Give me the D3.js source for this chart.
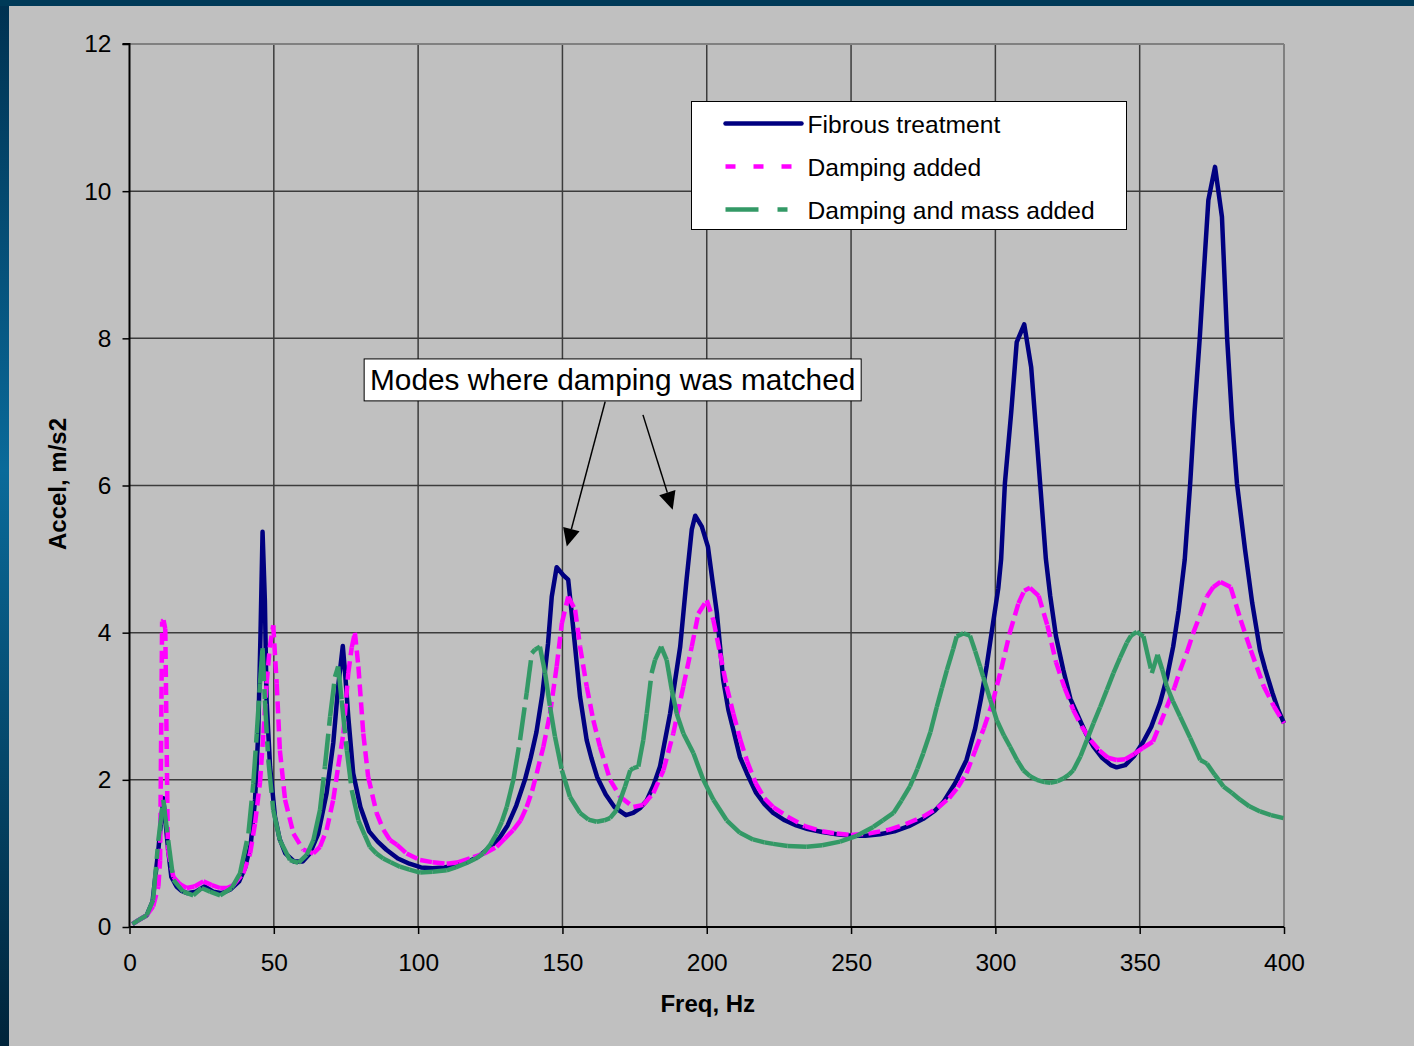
<!DOCTYPE html>
<html>
<head>
<meta charset="utf-8">
<script src="https://cdn.jsdelivr.net/npm/d3@7"></script>
<style>
  html, body { margin: 0; padding: 0; background: #c0c0c0; }
  svg { display: block; }
  text { font-family: "Liberation Sans", Arial, sans-serif; fill: #000; }
</style>
</head>
<body>
<svg id="chart" width="1414" height="1046"></svg>
<script>
// ---- Frequency response data (acceleration, m/s2 vs frequency, Hz) ----
const fibrousFreq = [1,3,6,8,10,11.7,13.4,14.5,16.3,18,20,23,26,29,32,35,38,40,42,43.5,44.6,45.4,46.1,46.9,47.5,48.7,50.4,52,54,57,60,62.5,65.4,68.3,70.6,72.3,73.9,74.7,75.8,77.5,80,83,86,89,93,97,101,105,109,113,117,121,125,128,131,134,137,139,141,143,145,146.3,148,150.3,152,153.8,156.1,158.4,160,162,165,168,172,174.5,177,179.2,181.5,183.8,187.3,190.8,193,194.8,196,198.3,200.4,202,203.5,205.7,207.5,209.2,211.5,213.9,217,220,223,227,231,235,240,245,250,255,260,265,270,275,279,282,286,290,293,295,297,299,301,302,303.3,305.5,307.4,310,312.4,314,315.5,317.5,319,321,323.5,326,329.3,331.5,334,337,340,342,345,348,351,354,357,359.5,361.6,363.5,365.6,367.5,369,370.8,372.3,373.8,376.1,378.5,380.3,382,383.7,386.5,389,391.7,393.5,396,398,400];
const fibrousAccel = [0.04,0.09,0.16,0.35,1.05,1.75,1.05,0.68,0.55,0.49,0.46,0.48,0.55,0.48,0.46,0.51,0.62,0.8,1.12,1.73,2.63,4.0,5.37,4.44,3.08,2.18,1.5,1.2,1.0,0.89,0.89,1.0,1.27,1.82,2.5,3.27,3.82,3.45,2.86,2.09,1.63,1.3,1.16,1.05,0.93,0.86,0.81,0.8,0.81,0.84,0.88,0.96,1.09,1.2,1.38,1.65,2.0,2.3,2.65,3.15,3.85,4.49,4.89,4.78,4.72,4.04,3.13,2.54,2.3,2.04,1.8,1.63,1.52,1.55,1.62,1.72,1.92,2.18,2.9,3.81,4.72,5.4,5.59,5.44,5.17,4.7,4.27,3.36,2.95,2.68,2.31,2.09,1.83,1.67,1.55,1.45,1.38,1.33,1.29,1.26,1.24,1.24,1.26,1.3,1.37,1.47,1.58,1.7,1.95,2.27,2.7,3.1,3.55,4.08,4.6,5.0,6.03,7.0,7.95,8.19,7.61,6.8,6.03,5.0,4.5,3.95,3.5,3.1,2.81,2.62,2.45,2.3,2.2,2.17,2.2,2.32,2.5,2.72,3.04,3.4,3.81,4.3,4.99,6.03,7.0,8.0,8.95,9.88,10.33,9.65,8.0,6.9,6.03,5.13,4.4,3.76,3.5,3.18,2.95,2.77];

const dampingFreq = [1,3,6,8.2,10,10.6,11.3,11.8,12.4,13.3,15.2,17.5,19.8,22.5,25.6,28.5,31.4,34,36,39.4,41.8,43.5,45.2,46.4,47.5,48.6,49.8,51,52.1,53.9,56.8,60.2,63.7,66,68.3,70.6,72.3,74.1,75.8,77,78.1,79.3,81,82.7,85.6,88,90.3,92.6,96,100.7,105,109.9,114,119.1,123,127.2,130,133,135.5,137.6,139.5,141.1,143.4,145.7,148,149.8,152,154.4,156.1,158.4,160.7,163,166.5,170,174.6,178,181.5,185,188.4,191.9,194.8,197.1,200,202.3,204.6,206.9,209.2,211.6,214,217,220,223,228,234,240,245,250,256,263,269,275,280,284,287,290,293,296,299,302,305,308,310,312,315,318,321,324,327,330,333,336,339,342,345,348,351,354.6,357,359.4,362,364,366.5,368.6,371,373.3,375.5,378,381.5,385,388.5,393,396.5,400];
const dampingAccel = [0.04,0.09,0.16,0.28,0.55,0.9,4.15,4.17,4.05,1.05,0.68,0.58,0.53,0.55,0.62,0.57,0.53,0.53,0.57,0.73,1.0,1.41,1.96,2.63,3.31,3.8,4.1,3.31,2.4,1.73,1.27,1.05,1.0,1.09,1.32,1.73,2.18,2.63,3.45,3.8,4.0,3.54,2.63,2.04,1.55,1.32,1.18,1.12,1.0,0.91,0.88,0.86,0.88,0.95,1.0,1.09,1.2,1.32,1.45,1.63,1.85,2.09,2.45,2.9,3.54,4.13,4.49,4.31,3.81,3.27,2.81,2.45,2.0,1.77,1.63,1.66,1.82,2.13,2.63,3.27,3.81,4.26,4.44,4.17,3.72,3.27,2.9,2.55,2.25,1.95,1.75,1.63,1.5,1.37,1.3,1.27,1.25,1.27,1.32,1.4,1.5,1.62,1.75,1.9,2.09,2.4,2.7,3.05,3.5,4.0,4.4,4.57,4.61,4.5,4.1,3.6,3.25,2.95,2.72,2.54,2.4,2.3,2.27,2.28,2.35,2.43,2.52,2.75,2.99,3.25,3.49,3.75,4.0,4.25,4.49,4.62,4.69,4.62,4.17,3.76,3.27,3.0,2.77];

const massFreq = [1,3,6,8.2,10,11.7,13.4,15.2,18.6,22.1,25,27.9,31.4,35.4,38.3,41.2,42.9,44.1,45.2,46.1,46.9,48.1,49.8,52.1,55.6,58.5,61.4,63.7,66,67.7,69.5,71.2,72.3,73.5,75.3,77,79.3,81.5,83.3,85.5,87.9,90.5,93.7,97,100.7,105,109.9,113,116.8,120,122.6,125,127.2,129,130.7,133,135.3,137.6,139.4,140.5,142.2,144,145.7,147.4,149.8,152.6,156.1,159,161.9,164.5,166.5,168.8,171.7,173.5,174.6,176.3,178,179.2,180.9,182.1,184.2,186.1,187.9,189.6,191.9,195.4,198.8,202.3,206.9,211.5,216,220,223,228,234.6,240,246.2,252,257.7,261,264.7,267.5,270.4,273,275,277.5,279.7,281.5,283.2,285.4,286.6,288.9,291.2,293,294.7,295.8,298.2,300.5,303,305.1,307.5,309.7,312,314.3,317,319,321.5,323.6,325.5,327,329.5,331.7,334,336.3,338.6,340.9,343.2,345.5,347,349,351.3,354.2,356.2,357.8,359.4,361.5,364,367.5,371,373.3,376,379,382,384.8,388,391.7,395.5,399.8];
const massAccel = [0.04,0.09,0.16,0.37,1.18,1.73,1.18,0.64,0.48,0.43,0.53,0.48,0.43,0.53,0.73,1.27,1.95,2.63,3.31,3.79,3.08,2.27,1.59,1.18,0.91,0.87,0.98,1.18,1.59,2.18,2.86,3.4,3.54,3.08,2.4,1.86,1.45,1.25,1.09,1.0,0.93,0.88,0.82,0.78,0.74,0.75,0.77,0.81,0.87,0.93,1.0,1.12,1.27,1.43,1.63,2.0,2.54,3.18,3.72,3.77,3.81,3.45,2.99,2.59,2.13,1.77,1.55,1.46,1.43,1.45,1.48,1.59,1.91,2.13,2.16,2.18,2.54,2.9,3.45,3.63,3.81,3.63,3.22,2.9,2.63,2.36,2.0,1.73,1.45,1.28,1.19,1.15,1.13,1.1,1.09,1.11,1.16,1.24,1.36,1.45,1.55,1.72,1.91,2.15,2.36,2.65,2.99,3.25,3.49,3.78,3.95,3.99,3.96,3.75,3.54,3.4,3.09,2.81,2.6,2.45,2.27,2.13,2.05,2.0,1.97,1.96,1.98,2.02,2.07,2.13,2.32,2.54,2.77,2.99,3.22,3.45,3.66,3.86,3.96,4.01,3.95,3.45,3.7,3.5,3.27,3.07,2.86,2.57,2.27,2.22,2.07,1.91,1.82,1.73,1.64,1.57,1.52,1.48];

const seriesNames = ["Fibrous treatment", "Damping added", "Damping and mass added"];
const xTicks = [0, 50, 100, 150, 200, 250, 300, 350, 400];
const yTicks = [0, 2, 4, 6, 8, 10, 12];
const xTitle = "Freq, Hz";
const yTitle = "Accel, m/s2";
const noteText = "Modes where damping was matched";
// annotation arrows: [start freq, start accel, tip freq, tip accel]
const noteArrows = [[164.8, 7.14, 151.5, 5.17], [177.9, 6.96, 188.2, 5.67]];

// ---- Layout ----
const W = 1414, H = 1046;
const plot = { left: 129.5, right: 1284, top: 44, bottom: 927 };

const svg = d3.select("#chart");
const defs = svg.append("defs");
const grad = defs.append("linearGradient").attr("id", "edgeGrad")
  .attr("x1", 0).attr("y1", 0).attr("x2", 0).attr("y2", 1);
grad.append("stop").attr("offset", "0%").attr("stop-color", "#003150");
grad.append("stop").attr("offset", "45%").attr("stop-color", "#0a6a9a");
grad.append("stop").attr("offset", "100%").attr("stop-color", "#00243a");

// slide frame: blue edge on the left and top, grey panel
svg.append("rect").attr("width", W).attr("height", H).attr("fill", "url(#edgeGrad)");
svg.append("rect").attr("x", 0).attr("y", 0).attr("width", W).attr("height", 6).attr("fill", "#003a58");
svg.append("rect").attr("x", 9).attr("y", 6).attr("width", W - 9).attr("height", H - 6).attr("fill", "#c0c0c0");

const x = d3.scaleLinear().domain([0, 400]).range([plot.left, plot.right]);
const y = d3.scaleLinear().domain([0, 12]).range([plot.bottom, plot.top]);

// gridlines
const grid = svg.append("g").attr("stroke", "#3c3c3c").attr("stroke-width", 1.5);
grid.selectAll(".gx").data(xTicks.filter(d => d > 0 && d < 400)).join("line")
  .attr("x1", d => x(d)).attr("x2", d => x(d)).attr("y1", plot.top).attr("y2", plot.bottom);
grid.selectAll(".gy").data(yTicks.filter(d => d > 0 && d < 12)).join("line")
  .attr("x1", plot.left).attr("x2", plot.right).attr("y1", d => y(d)).attr("y2", d => y(d));

// plot border (top and right in grey)
svg.append("line").attr("x1", plot.left).attr("x2", plot.right).attr("y1", plot.top).attr("y2", plot.top)
  .attr("stroke", "#808080").attr("stroke-width", 2);
svg.append("line").attr("x1", plot.right).attr("x2", plot.right).attr("y1", plot.top).attr("y2", plot.bottom)
  .attr("stroke", "#808080").attr("stroke-width", 2);

// axes
const xAxis = d3.axisBottom(x).tickValues(xTicks).tickSize(7).tickPadding(20).tickFormat(d3.format("d"));
const yAxis = d3.axisLeft(y).tickValues(yTicks).tickSize(7).tickPadding(11).tickFormat(d3.format("d"));
const gx = svg.append("g").attr("transform", `translate(0,${plot.bottom})`).call(xAxis);
const gy = svg.append("g").attr("transform", `translate(${plot.left},0)`).call(yAxis);
[gx, gy].forEach(g => {
  g.select(".domain").attr("stroke", "#000").attr("stroke-width", 2);
  g.selectAll(".tick line").attr("stroke", "#000").attr("stroke-width", 1.5);
  g.selectAll(".tick text").attr("font-size", 24.5).attr("font-family", "Liberation Sans, Arial, sans-serif").attr("fill", "#000");
});
gy.select(".domain").attr("d", `M-7,${plot.top}H0V${plot.bottom}`);
gx.select(".domain").attr("d", `M${plot.left},0H${plot.right}`);

// axis titles
svg.append("text").attr("x", (plot.left + plot.right) / 2 + 1).attr("y", 1012)
  .attr("text-anchor", "middle").attr("font-size", 24).attr("font-weight", "bold").text(xTitle);
svg.append("text").attr("transform", `translate(66,484) rotate(-90)`)
  .attr("text-anchor", "middle").attr("font-size", 24).attr("font-weight", "bold").text(yTitle);

// ---- Series ----
const series = [
  { name: seriesNames[0], f: fibrousFreq, v: fibrousAccel, color: "#000080", dash: null },
  { name: seriesNames[1], f: dampingFreq, v: dampingAccel, color: "#ff00ff", dash: "12,6" },
  { name: seriesNames[2], f: massFreq, v: massAccel, color: "#339966", dash: "33,8,10,8" }
];
const line = d3.line().x(d => x(d[0])).y(d => y(d[1]));

series.forEach(s => {
  const pts = s.f.map((f, i) => [f, s.v[i]]);
  const g = svg.append("g").attr("fill", "none").attr("stroke", s.color).attr("stroke-width", 4.5);
  if (!s.dash) {
    g.append("path").attr("d", line(pts)).attr("stroke-linejoin", "round");
  } else {
    // dash pattern restarts on each segment between consecutive points
    const segs = d3.pairs(pts);
    g.selectAll("path").data(segs).join("path")
      .attr("d", d => line(d)).attr("stroke-dasharray", s.dash).attr("stroke-linecap", "butt");
  }
});

// ---- Legend ----
const lg = svg.append("g").attr("transform", "translate(691.5,101.5)");
lg.append("rect").attr("width", 435).attr("height", 128).attr("fill", "#fff").attr("stroke", "#000").attr("stroke-width", 1);
const legendDash = [null, "10,18", "33,19,10,19"];
series.forEach((s, i) => {
  const ly = 22 + i * 43;
  const l = lg.append("line").attr("x1", 34).attr("x2", 110).attr("y1", ly).attr("y2", ly)
    .attr("stroke", s.color).attr("stroke-width", 4.5);
  if (legendDash[i]) l.attr("stroke-dasharray", legendDash[i]);
  else l.attr("stroke-linecap", "round");
  lg.append("text").attr("x", 116).attr("y", ly + 9).attr("font-size", 24.6).text(s.name);
});

// ---- Annotation ----
const note = svg.append("g");
const boxX0 = x(81.3), boxX1 = x(253.5), boxY0 = y(7.72), boxY1 = y(7.15);
note.append("rect").attr("x", boxX0).attr("y", boxY0).attr("width", boxX1 - boxX0).attr("height", boxY1 - boxY0)
  .attr("fill", "#fff").attr("stroke", "#000").attr("stroke-width", 1);
note.append("text").attr("x", (boxX0 + boxX1) / 2).attr("y", boxY0 + 31)
  .attr("text-anchor", "middle").attr("font-size", 29.8).text(noteText);
noteArrows.forEach(a => {
  const x0 = x(a[0]), y0 = y(a[1]), x1 = x(a[2]), y1 = y(a[3]);
  const ang = Math.atan2(y1 - y0, x1 - x0);
  const len = 18, half = 8.5;
  const bx = x1 - len * Math.cos(ang), by = y1 - len * Math.sin(ang);
  note.append("line").attr("x1", x0).attr("y1", y0).attr("x2", bx).attr("y2", by)
    .attr("stroke", "#000").attr("stroke-width", 1.5);
  const pts = [[x1, y1],
    [bx + half * Math.sin(ang), by - half * Math.cos(ang)],
    [bx - half * Math.sin(ang), by + half * Math.cos(ang)]];
  note.append("polygon").attr("points", pts.map(p => p.join(",")).join(" ")).attr("fill", "#000");
});
</script>
</body>
</html>
